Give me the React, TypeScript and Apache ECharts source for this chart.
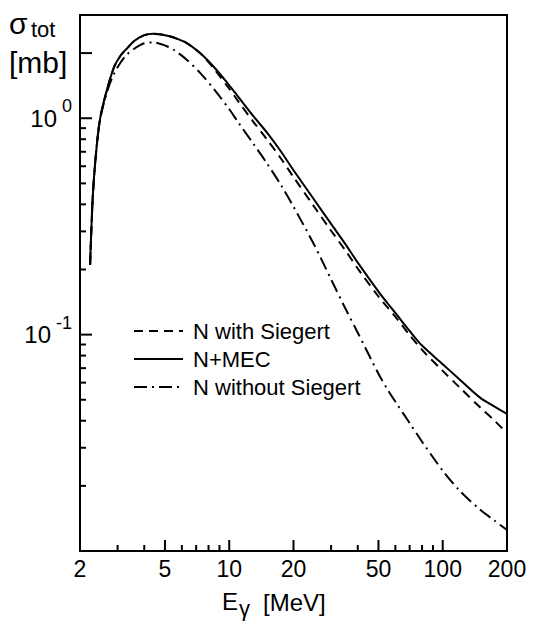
import React, { useEffect, useRef } from "react";
import * as echarts from "echarts";

// Axis ranges
const xMin = 2;
const xMax = 200;
const yMin = 0.01;
const yMax = 3;

// Photon energy grid [MeV]
const energies = [
  2.23, 2.3, 2.4, 2.5, 2.7, 2.9, 3.1, 3.3, 3.6, 4.0, 4.4, 5.0, 5.5, 6.3, 7.3, 8.5,
  10, 11, 13, 15, 17.5, 20, 25, 30, 35, 40, 50, 55, 60, 70, 80, 100, 120, 150, 175, 200,
];

// sigma_tot [mb]
const sigmaWithSiegert = [
  0.21, 0.45, 0.76, 1.03, 1.4, 1.74, 1.95, 2.09, 2.28, 2.42, 2.46, 2.42, 2.36, 2.23, 2.0, 1.69,
  1.37, 1.2, 0.96, 0.8, 0.65, 0.535, 0.39, 0.302, 0.245, 0.202, 0.15, 0.134, 0.121, 0.0995, 0.085,
  0.068, 0.057, 0.046, 0.04, 0.035,
];
const sigmaMEC = [
  0.21, 0.45, 0.76, 1.03, 1.4, 1.74, 1.95, 2.09, 2.28, 2.42, 2.46, 2.42, 2.36, 2.23, 2.0, 1.72,
  1.42, 1.26, 1.02, 0.86, 0.7, 0.575, 0.42, 0.325, 0.262, 0.215, 0.158, 0.14, 0.126, 0.104, 0.089,
  0.073, 0.062, 0.051, 0.0465, 0.043,
];
const sigmaWithoutSiegert = [
  0.21, 0.45, 0.76, 1.02, 1.36, 1.62, 1.81, 1.96, 2.1, 2.22, 2.24, 2.17, 2.07, 1.87, 1.62, 1.36,
  1.1, 0.96, 0.76, 0.62, 0.49, 0.39, 0.26, 0.18, 0.132, 0.102, 0.066, 0.056, 0.049, 0.039, 0.032,
  0.0235, 0.019, 0.0155, 0.0138, 0.0125,
];

const seriesNames = ["N with Siegert", "N+MEC", "N without Siegert"];

const xLabelValues = [2, 5, 10, 20, 50, 100, 200];
const xMajorTicks = [5, 10, 20, 50, 100];
const xMinorTicks = [3, 4, 6, 7, 8, 9, 30, 40, 60, 70, 80, 90];
const yLabelValues = [0.1, 1];
const yMajorTicks = [0.1, 1, 2];
const yMinorTicks = [
  0.02, 0.03, 0.04, 0.05, 0.06, 0.07, 0.08, 0.09, 0.2, 0.3, 0.4, 0.5, 0.6, 0.7, 0.8, 0.9,
];

const SANS = "'Liberation Sans', Arial, sans-serif";

const pair = (ys: number[]) => energies.map((e, i) => [e, ys[i]]);

function tickSeries(id: string, values: number[], dir: "x" | "y", len: number): any {
  return {
    id,
    type: "custom",
    xAxisIndex: 0,
    yAxisIndex: 0,
    silent: true,
    clip: false,
    z: 5,
    data: values.map((v) => (dir === "x" ? [v, yMin] : [xMin, v])),
    renderItem: (_params: any, api: any) => {
      const p = api.coord([api.value(0), api.value(1)]);
      const shape =
        dir === "x"
          ? { x1: p[0], y1: p[1], x2: p[0], y2: p[1] - len }
          : { x1: p[0], y1: p[1], x2: p[0] + len, y2: p[1] };
      return { type: "line", shape, style: { stroke: "#000", lineWidth: 2 } };
    },
  };
}

function buildOption(): any {
  return {
    animation: false,
    backgroundColor: "#fff",
    grid: {
      left: 80,
      right: 29,
      top: 15,
      bottom: 73,
      show: true,
      borderColor: "#000",
      borderWidth: 2,
      backgroundColor: "transparent",
    },
    legend: {
      orient: "vertical",
      left: 128,
      top: 315,
      itemWidth: 49,
      itemHeight: 16,
      itemGap: 6,
      data: seriesNames,
      itemStyle: { opacity: 0 },
      textStyle: { fontSize: 22, fontFamily: SANS, color: "#000", padding: [0, 0, 0, 5] },
    },
    xAxis: {
      type: "log",
      logBase: 10,
      min: xMin,
      max: xMax,
      position: "bottom",
      splitLine: { show: false },
      axisLine: { show: true, lineStyle: { color: "#000", width: 2 } },
      axisTick: { show: false },
      axisLabel: {
        customValues: xLabelValues,
        formatter: (v: number) => String(Math.round(v)),
        fontSize: 23,
        fontFamily: SANS,
        color: "#000",
        margin: 6,
      },
    },
    yAxis: {
      type: "log",
      logBase: 10,
      min: yMin,
      max: yMax,
      position: "left",
      splitLine: { show: false },
      axisLine: { show: true, lineStyle: { color: "#000", width: 2 } },
      axisTick: { show: false },
      axisLabel: {
        customValues: yLabelValues,
        margin: 8,
        formatter: (v: number) => `{b|10}{s|${Math.round(Math.log10(v))}}`,
        rich: {
          b: { fontSize: 24, lineHeight: 42, fontFamily: SANS, color: "#000", verticalAlign: "middle" },
          s: {
            fontSize: 18,
            lineHeight: 19,
            fontFamily: SANS,
            color: "#000",
            verticalAlign: "top",
            padding: [0, 0, 0, 5],
          },
        },
      },
    },
    graphic: [
      { type: "text", x: 9, y: 23, style: { text: "σ", fontSize: 30, fontFamily: SANS, fill: "#000", verticalAlign: "middle", textVerticalAlign: "middle" } },
      { type: "text", x: 31, y: 29, style: { text: "tot", fontSize: 22, fontFamily: SANS, fill: "#000", verticalAlign: "middle", textVerticalAlign: "middle" } },
      { type: "text", x: 9, y: 62, style: { text: "[mb]", fontSize: 30, fontFamily: SANS, fill: "#000", verticalAlign: "middle", textVerticalAlign: "middle" } },
      { type: "text", x: 222, y: 601, style: { text: "E", fontSize: 24, fontFamily: SANS, fill: "#000", verticalAlign: "middle", textVerticalAlign: "middle" } },
      { type: "text", x: 239, y: 608, style: { text: "γ", fontSize: 22, fontFamily: SANS, fill: "#000", verticalAlign: "middle", textVerticalAlign: "middle" } },
      { type: "text", x: 263, y: 602, style: { text: "[MeV]", fontSize: 24, fontFamily: SANS, fill: "#000", verticalAlign: "middle", textVerticalAlign: "middle" } },
    ],
    series: [
      {
        name: seriesNames[0],
        type: "line",
        data: pair(sigmaWithSiegert),
        symbol: "none",
        smooth: 0.3,
        lineStyle: { color: "#000", width: 2, type: [9, 6] },
        itemStyle: { color: "#000" },
        z: 3,
      },
      {
        name: seriesNames[1],
        type: "line",
        data: pair(sigmaMEC),
        symbol: "none",
        smooth: 0.3,
        lineStyle: { color: "#000", width: 2, type: "solid" },
        itemStyle: { color: "#000" },
        z: 4,
      },
      {
        name: seriesNames[2],
        type: "line",
        data: pair(sigmaWithoutSiegert),
        symbol: "none",
        smooth: 0.3,
        lineStyle: { color: "#000", width: 2, type: [13, 5, 2, 5] },
        itemStyle: { color: "#000" },
        z: 3,
      },
      tickSeries("xMajor", xMajorTicks, "x", 11),
      tickSeries("xMinor", xMinorTicks, "x", 6),
      tickSeries("yMajor", yMajorTicks, "y", 12),
      tickSeries("yMinor", yMinorTicks, "y", 6),
    ],
  };
}

export default function App() {
  const ref = useRef<HTMLDivElement>(null);
  useEffect(() => {
    if (!ref.current) return;
    const chart = echarts.init(ref.current, null, { renderer: "svg" });
    chart.setOption(buildOption());
    return () => chart.dispose();
  }, []);
  return (
    <div
      ref={ref}
      style={{ position: "absolute", left: 0, top: 0, width: 536, height: 624, background: "#fff" }}
    />
  );
}
